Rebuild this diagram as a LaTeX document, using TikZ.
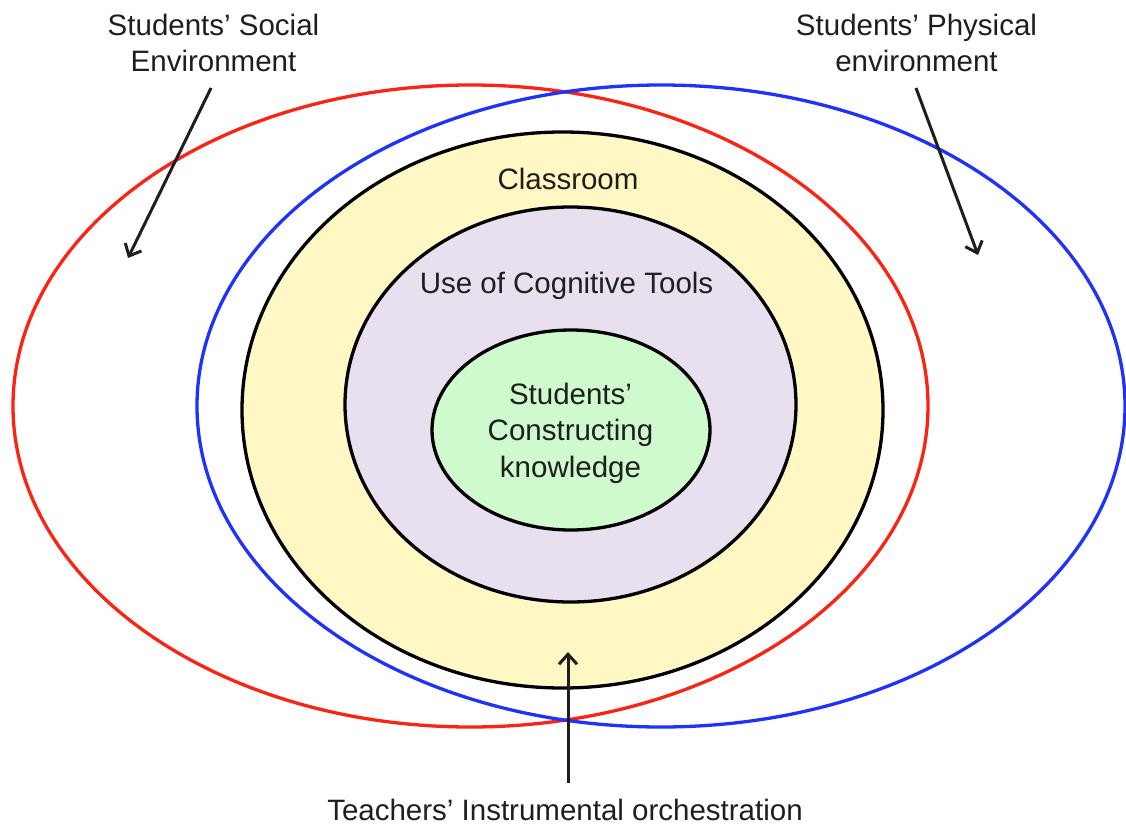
\documentclass[tikz,border=0pt]{standalone}
\usepackage{fontspec}
\setmainfont{Liberation Sans}
\usetikzlibrary{arrows.meta}

\definecolor{txt}{RGB}{30,30,30}
\definecolor{socialred}{RGB}{250,35,20}
\definecolor{physblue}{RGB}{30,50,250}
\definecolor{roomfill}{RGB}{255,247,196}
\definecolor{toolfill}{RGB}{232,224,238}
\definecolor{knowfill}{RGB}{206,250,206}

\begin{document}
\begin{tikzpicture}[x=1pt,y=-1pt,
  label/.style={font=\fontsize{29.5}{36.5}\selectfont, text=txt, align=center, inner sep=0pt},
  ring/.style={line width=3.3pt},
  pointer/.style={line width=3pt, txt, -{Straight Barb[length=10pt,width=18pt]}}]
\useasboundingbox (0,0) rectangle (1126,826);

% outer environments
\draw[ring, socialred] (470.5,406) ellipse [x radius=457.5pt, y radius=321pt];
\draw[ring, physblue] (661,406) ellipse [x radius=464pt, y radius=321pt];

% nested levels
\filldraw[ring, fill=roomfill, draw=black] (562.5,410) ellipse [x radius=320.5pt, y radius=278pt];
\filldraw[ring, fill=toolfill, draw=black] (570.5,404.5) ellipse [x radius=225.5pt, y radius=197.5pt];
\filldraw[ring, fill=knowfill, draw=black] (571,430) ellipse [x radius=139pt, y radius=100pt];

% labels (a multi-line label sits on the baseline of its last line)
\node[label, anchor=base] (social) at (213.5,72) {Students’ Social\\Environment};
\node[label, anchor=base] (physical) at (916.5,72) {Students’ Physical\\environment};
\node[label, anchor=base] (classroom) at (568,190) {Classroom};
\node[label, anchor=base] (tools) at (566.5,293) {Use of Cognitive Tools};
\node[label, anchor=base] (knowledge) at (570.5,477) {Students’\\Constructing\\knowledge};
\node[label, anchor=base] (teacher) at (565,820) {Teachers’ Instrumental orchestration};

% pointers
\coordinate (socialfrom) at (211,88);
\coordinate (socialto) at (128,258);
\coordinate (physfrom) at (916,88);
\coordinate (physto) at (978,255);
\coordinate (teachfrom) at (568,783);
\coordinate (teachto) at (568,652);
\draw[pointer] (socialfrom) -- (socialto);
\draw[pointer] (physfrom) -- (physto);
\draw[pointer] (teachfrom) -- (teachto);
\end{tikzpicture}
\end{document}
